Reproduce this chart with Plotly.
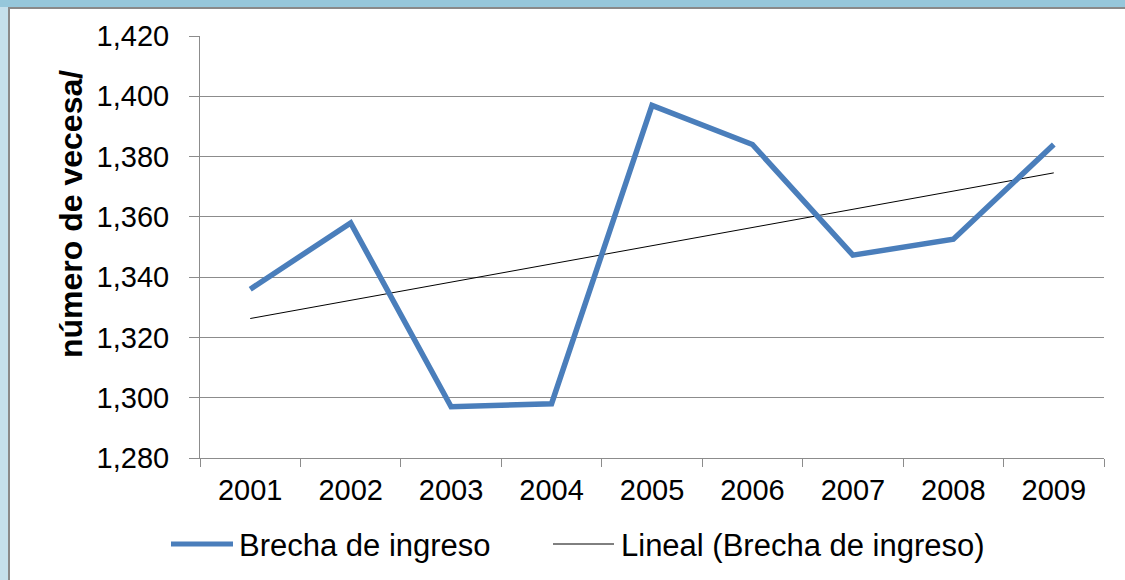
import numpy as np
import plotly.graph_objects as go

years = ["2001", "2002", "2003", "2004", "2005", "2006", "2007", "2008", "2009"]
brecha = [1336, 1358, 1297, 1298, 1397, 1384, 1347.3, 1352.6, 1384]
y_ticks = [1280, 1300, 1320, 1340, 1360, 1380, 1400, 1420]
y_labels = ["1,280", "1,300", "1,320", "1,340", "1,360", "1,380", "1,400", "1,420"]
series_name = "Brecha de ingreso"
trend_name = "Lineal (Brecha de ingreso)"
y_title = "número de vecesa/"

# linear trend (least squares) as in the spreadsheet trendline
xi = np.arange(1, len(brecha) + 1)
slope, intercept = np.polyfit(xi, brecha, 1)
trend = (slope * xi + intercept).tolist()

W, H = 1125, 580
L, R, T, B = 200, 21, 36, 122
PW, PH = W - L - R, H - T - B

def px(x):
    return (x - L) / PW

def py(y):
    return 1 - (y - T) / PH

FONT = "Liberation Sans, Arial, sans-serif"
BLUE = "#4A7EBB"

fig = go.Figure()
fig.add_trace(go.Scatter(x=years, y=trend, mode="lines", name=trend_name,
                         line=dict(color="black", width=1), showlegend=False))
fig.add_trace(go.Scatter(x=years, y=brecha, mode="lines", name=series_name,
                         line=dict(color=BLUE, width=5.5), showlegend=False))

shapes = []
# outer frame: light blue band top and left, gray inner lines
shapes.append(dict(type="rect", xref="paper", yref="paper", x0=px(0), x1=px(W), y0=py(7), y1=py(0),
                   fillcolor="#96C7DB", line=dict(width=0), layer="below"))
shapes.append(dict(type="rect", xref="paper", yref="paper", x0=px(0), x1=px(8), y0=py(H), y1=py(7),
                   fillcolor="#C5E0EC", line=dict(width=0), layer="below"))
shapes.append(dict(type="line", xref="paper", yref="paper", x0=px(8), x1=px(W), y0=py(8), y1=py(8),
                   line=dict(color="#8A8A8A", width=2)))
shapes.append(dict(type="line", xref="paper", yref="paper", x0=px(9), x1=px(9), y0=py(8), y1=py(H),
                   line=dict(color="#8A8A8A", width=2)))
# legend samples
shapes.append(dict(type="line", xref="paper", yref="paper", x0=px(171), x1=px(233), y0=py(544), y1=py(544),
                   line=dict(color=BLUE, width=5)))
shapes.append(dict(type="line", xref="paper", yref="paper", x0=px(553), x1=px(614), y0=py(544), y1=py(544),
                   line=dict(color="black", width=1)))

annotations = [
    dict(xref="paper", yref="paper", x=px(237), y=py(545), text=series_name, showarrow=False,
         xanchor="left", yanchor="middle", font=dict(family=FONT, size=31, color="black")),
    dict(xref="paper", yref="paper", x=px(619), y=py(545), text=trend_name, showarrow=False,
         xanchor="left", yanchor="middle", font=dict(family=FONT, size=31, color="black")),
    dict(xref="paper", yref="paper", x=px(71), y=py(214), text="<b>" + y_title + "</b>", showarrow=False,
         textangle=-90, xanchor="center", yanchor="middle", font=dict(family=FONT, size=32, color="black")),
]

fig.update_layout(
    width=W, height=H,
    margin=dict(l=L, r=R, t=T, b=B),
    paper_bgcolor="white", plot_bgcolor="white",
    shapes=shapes, annotations=annotations,
    showlegend=False,
    font=dict(family=FONT, size=20, color="black"),
)
fig.update_xaxes(
    type="category", range=[-0.5, 8.5],
    showline=True, linecolor="#8C8C8C", linewidth=1,
    showgrid=False, ticks="outside", ticklen=8, tickcolor="#8C8C8C",
    tickson="boundaries", tickfont=dict(family=FONT, size=29, color="black"),
    ticklabelstandoff=6,
    zeroline=False,
)
fig.update_yaxes(
    range=[1280, 1420], tickvals=y_ticks, ticktext=y_labels,
    showline=True, linecolor="#8C8C8C", linewidth=1,
    showgrid=True, gridcolor="#8C8C8C", gridwidth=1,
    ticks="outside", ticklen=10, tickcolor="#8C8C8C",
    tickfont=dict(family=FONT, size=29, color="black"),
    ticklabelstandoff=14,
    zeroline=False,
)
fig.write_html("out.html", config={"displayModeBar": False},
               post_script="document.body.style.margin='0px';")
